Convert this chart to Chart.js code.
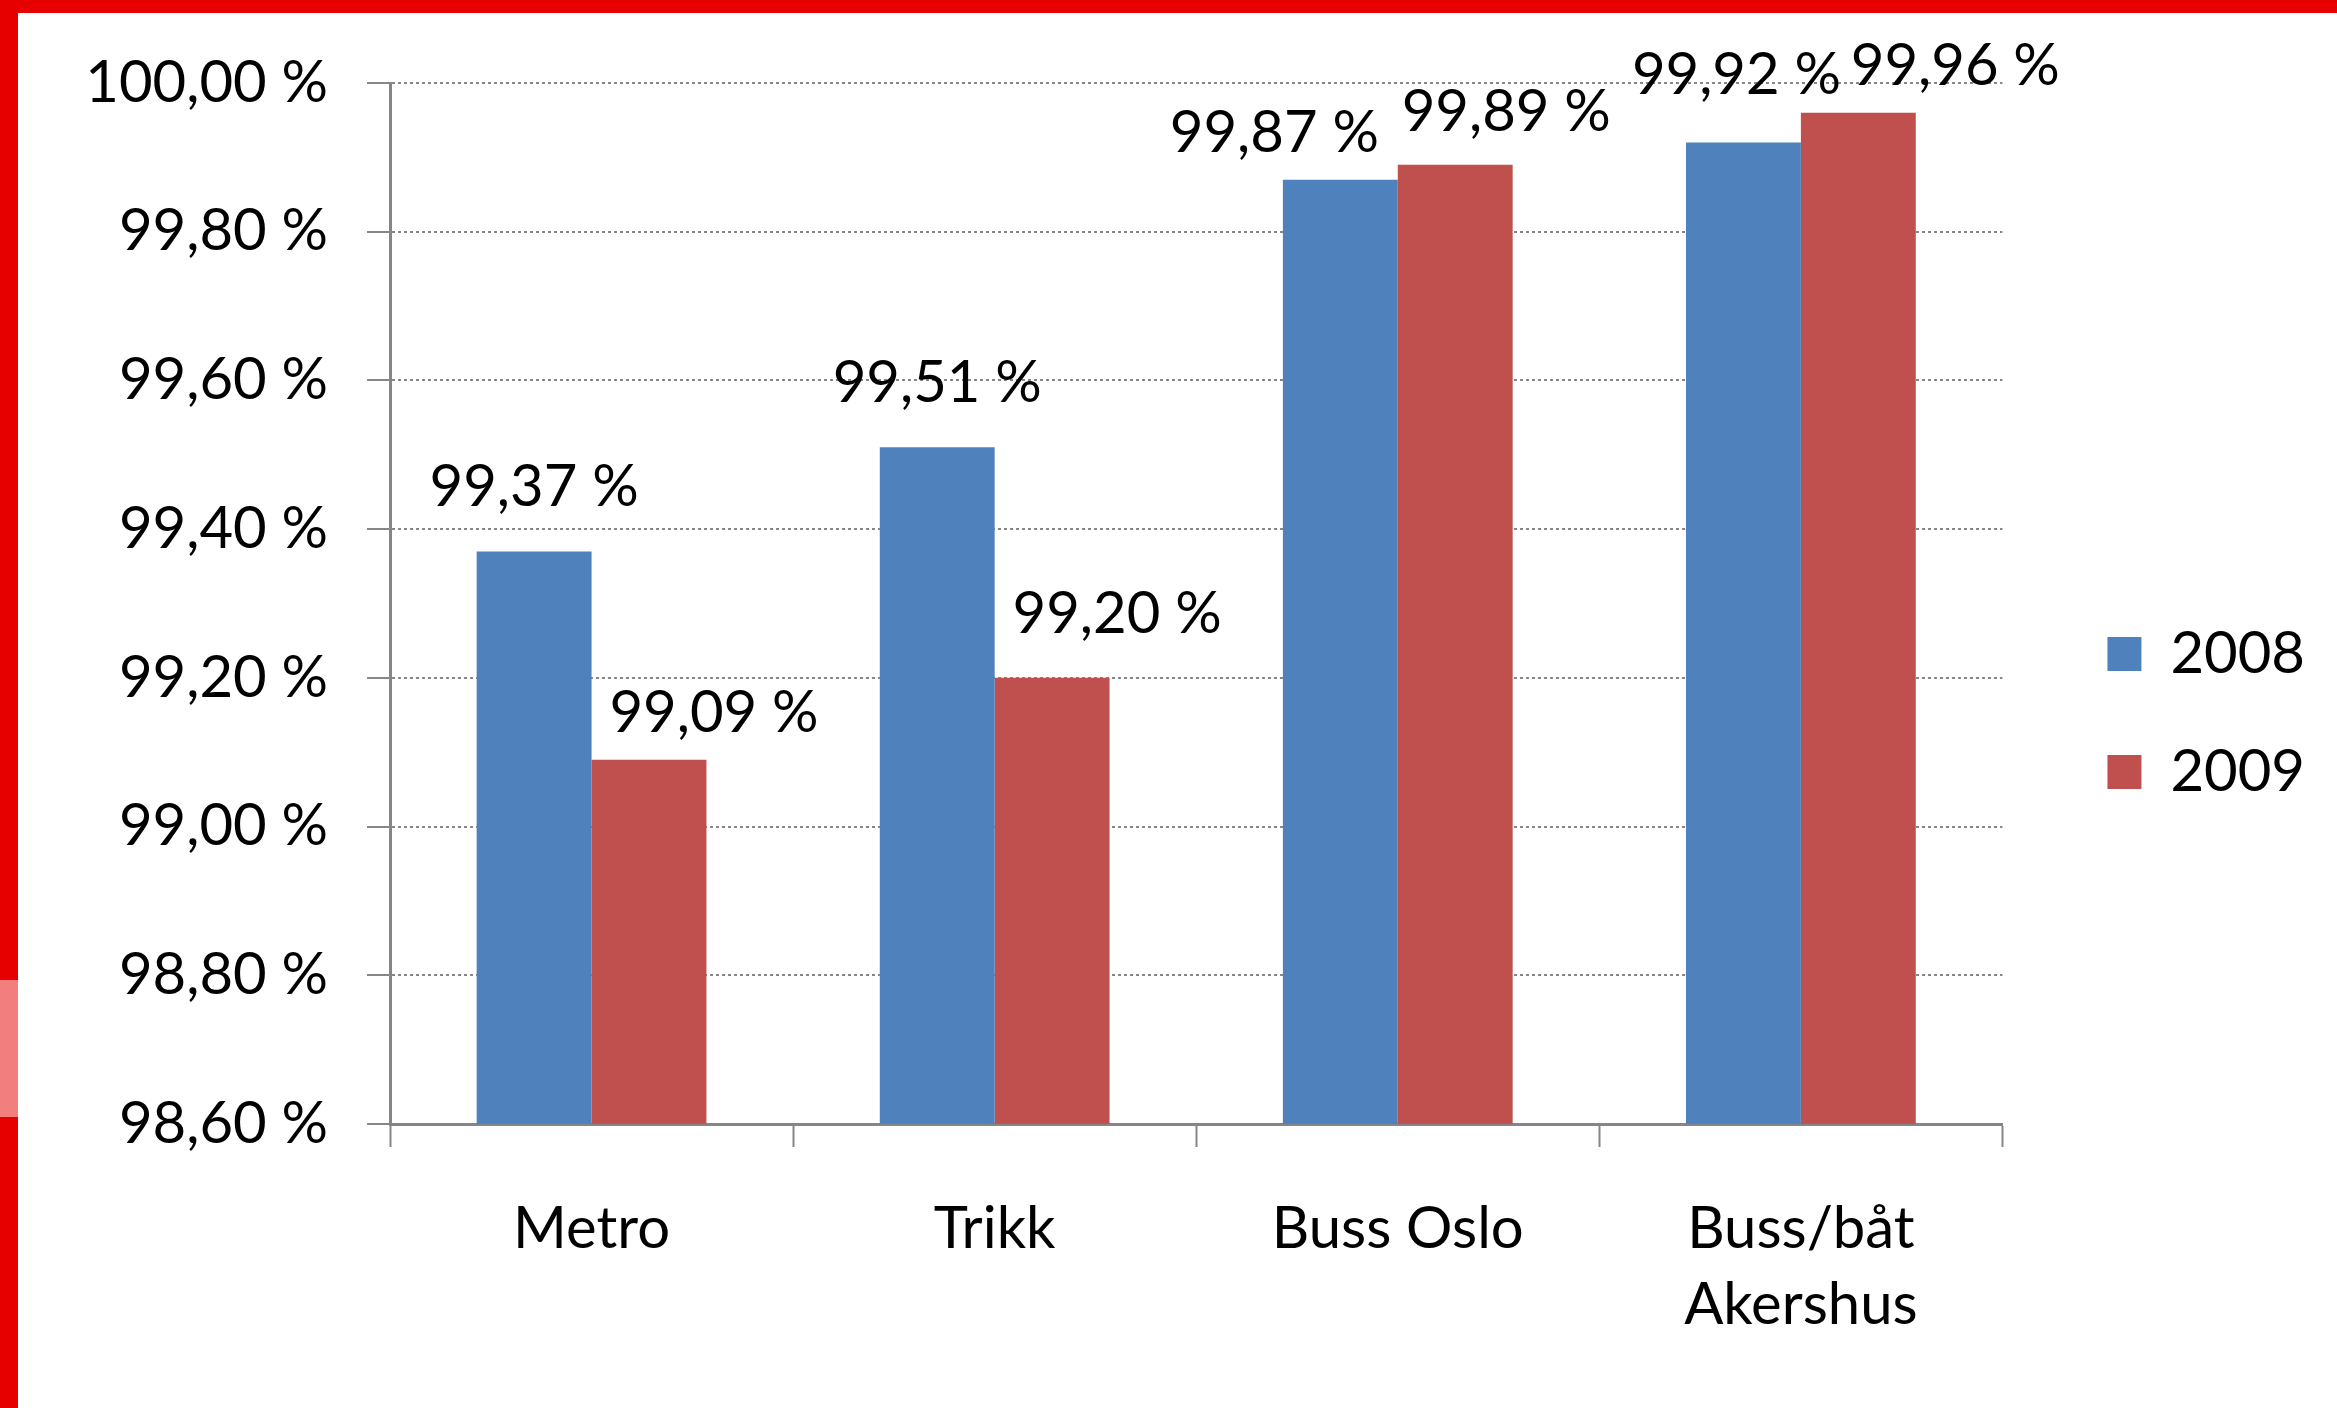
<!DOCTYPE html>
<html>
<head>
<meta charset="utf-8">
<script src="https://cdn.jsdelivr.net/npm/chart.js@4.4.1/dist/chart.umd.min.js"></script>
<style>
    html, body { margin: 0; padding: 0; background: #fff; overflow: hidden; }
    #quadro { position: relative; width: 2337px; height: 1408px; }
    #myChart { position: absolute; left: 0; top: 0; }
    /* moldura vermelha do slide */
    #bordaTopo { position: absolute; left: 0; top: 0; width: 2337px; height: 13px; background: #e60000; }
    #bordaEsq { position: absolute; left: 0; top: 0; width: 18px; height: 1408px; background: #e60000; }
    #bordaBrilho { position: absolute; left: 0; top: 980px; width: 18px; height: 137px; background: #f27e7e; }
</style>
</head>
<body>
<div id="quadro">
    <canvas id="myChart" width="2337" height="1408"></canvas>
    <div id="bordaTopo"></div>
    <div id="bordaEsq"></div>
    <div id="bordaBrilho"></div>
</div>
<script>
// -----------------------DADOS---------------------
const categorias = ['Metro', 'Trikk', 'Buss Oslo', ['Buss/båt', 'Akershus']]
const series = ['2008', '2009']
const valores2008 = [99.37, 99.51, 99.87, 99.92]
const valores2009 = [99.09, 99.20, 99.89, 99.96]
const eixoMin = 98.6
const eixoMax = 100
const eixoPasso = 0.2

function formatPct(v){
    return v.toFixed(2).replace('.', ',') + ' %'
}

//rotulos de valor em cima das barras (com ajuste manual como no original)
const rotulosPlugin = {
    id: 'rotulos',
    afterDatasetsDraw(chart, args, opts){
        const ctx = chart.ctx
        ctx.save()
        ctx.font = '58px Lato'
        ctx.fillStyle = '#000'
        ctx.textAlign = 'center'
        ctx.textBaseline = 'alphabetic'
        chart.data.datasets.forEach((ds, i) => {
            const meta = chart.getDatasetMeta(i)
            const aj = opts.ajustes[i]
            meta.data.forEach((bar, j) => {
                ctx.fillText(formatPct(ds.data[j]), bar.x + aj.dx[j], bar.y - aj.gap[j])
            })
        })
        ctx.restore()
    }
}

// -----------------------GRÁFICO---------------------
Chart.defaults.font.family = 'Lato'
Chart.defaults.font.size = 58
Chart.defaults.color = '#000'

const ctx = document.getElementById('myChart')
const data = {
    labels: categorias,
    datasets: [{
        label: series[0],
        data: valores2008,
        backgroundColor: '#4f81bd',
        borderWidth: 0,
        yAxisID: 'y'
    }, {
        label: series[1],
        data: valores2009,
        backgroundColor: '#c0504d',
        borderWidth: 0,
        yAxisID: 'y'
    }]
}

new Chart(ctx, {
    type: 'bar',
    data: data,
    plugins: [rotulosPlugin],
    options: {
        responsive: false,
        animation: false,
        devicePixelRatio: 1,
        categoryPercentage: 0.57,
        barPercentage: 1.0,
        layout: {
            padding: { left: 0, top: 83, right: 22, bottom: 65 }
        },
        plugins: {
            tooltip: { enabled: false },
            legend: {
                position: 'right',
                labels: {
                    font: { size: 58 },
                    color: '#000',
                    boxWidth: 34,
                    boxHeight: 34,
                    padding: 60
                }
            },
            rotulos: {
                ajustes: [
                    { dx: [0, 0, -66, -7], gap: [45, 45, 28, 48] },
                    { dx: [65, 65, 51, 97], gap: [28, 45, 34, 28] }
                ]
            }
        },
        scales: {
            x: {
                offset: true,
                grid: {
                    offset: true,
                    drawOnChartArea: false,
                    drawTicks: true,
                    tickLength: 23,
                    tickColor: '#868686',
                    tickWidth: 2
                },
                border: { color: '#868686', width: 3 },
                ticks: {
                    padding: 45,
                    maxRotation: 0,
                    autoSkip: false,
                    font: { size: 58, lineHeight: 1.3 }
                },
                afterFit(s){ s.height = 219 }
            },
            y: {
                min: eixoMin,
                max: eixoMax,
                grid: {
                    color: '#868686',
                    lineWidth: 2,
                    borderDash: [3, 3],
                    tickBorderDash: [],
                    tickLength: 23,
                    tickColor: '#868686',
                    tickWidth: 2
                },
                border: { color: '#868686', width: 3, dash: [3, 3] },
                ticks: {
                    stepSize: eixoPasso,
                    padding: 39,
                    callback: (v) => formatPct(v)
                },
                afterFit(s){ s.width = 390 }
            },
            //espaco vazio entre o gráfico e a legenda
            espaco: {
                type: 'linear',
                position: 'right',
                display: true,
                grid: { display: false },
                border: { display: false },
                ticks: { display: false },
                afterFit(s){ s.width = 45 }
            }
        }
    }
})
//---------------------------------------------------------------
</script>
</body>
</html>
